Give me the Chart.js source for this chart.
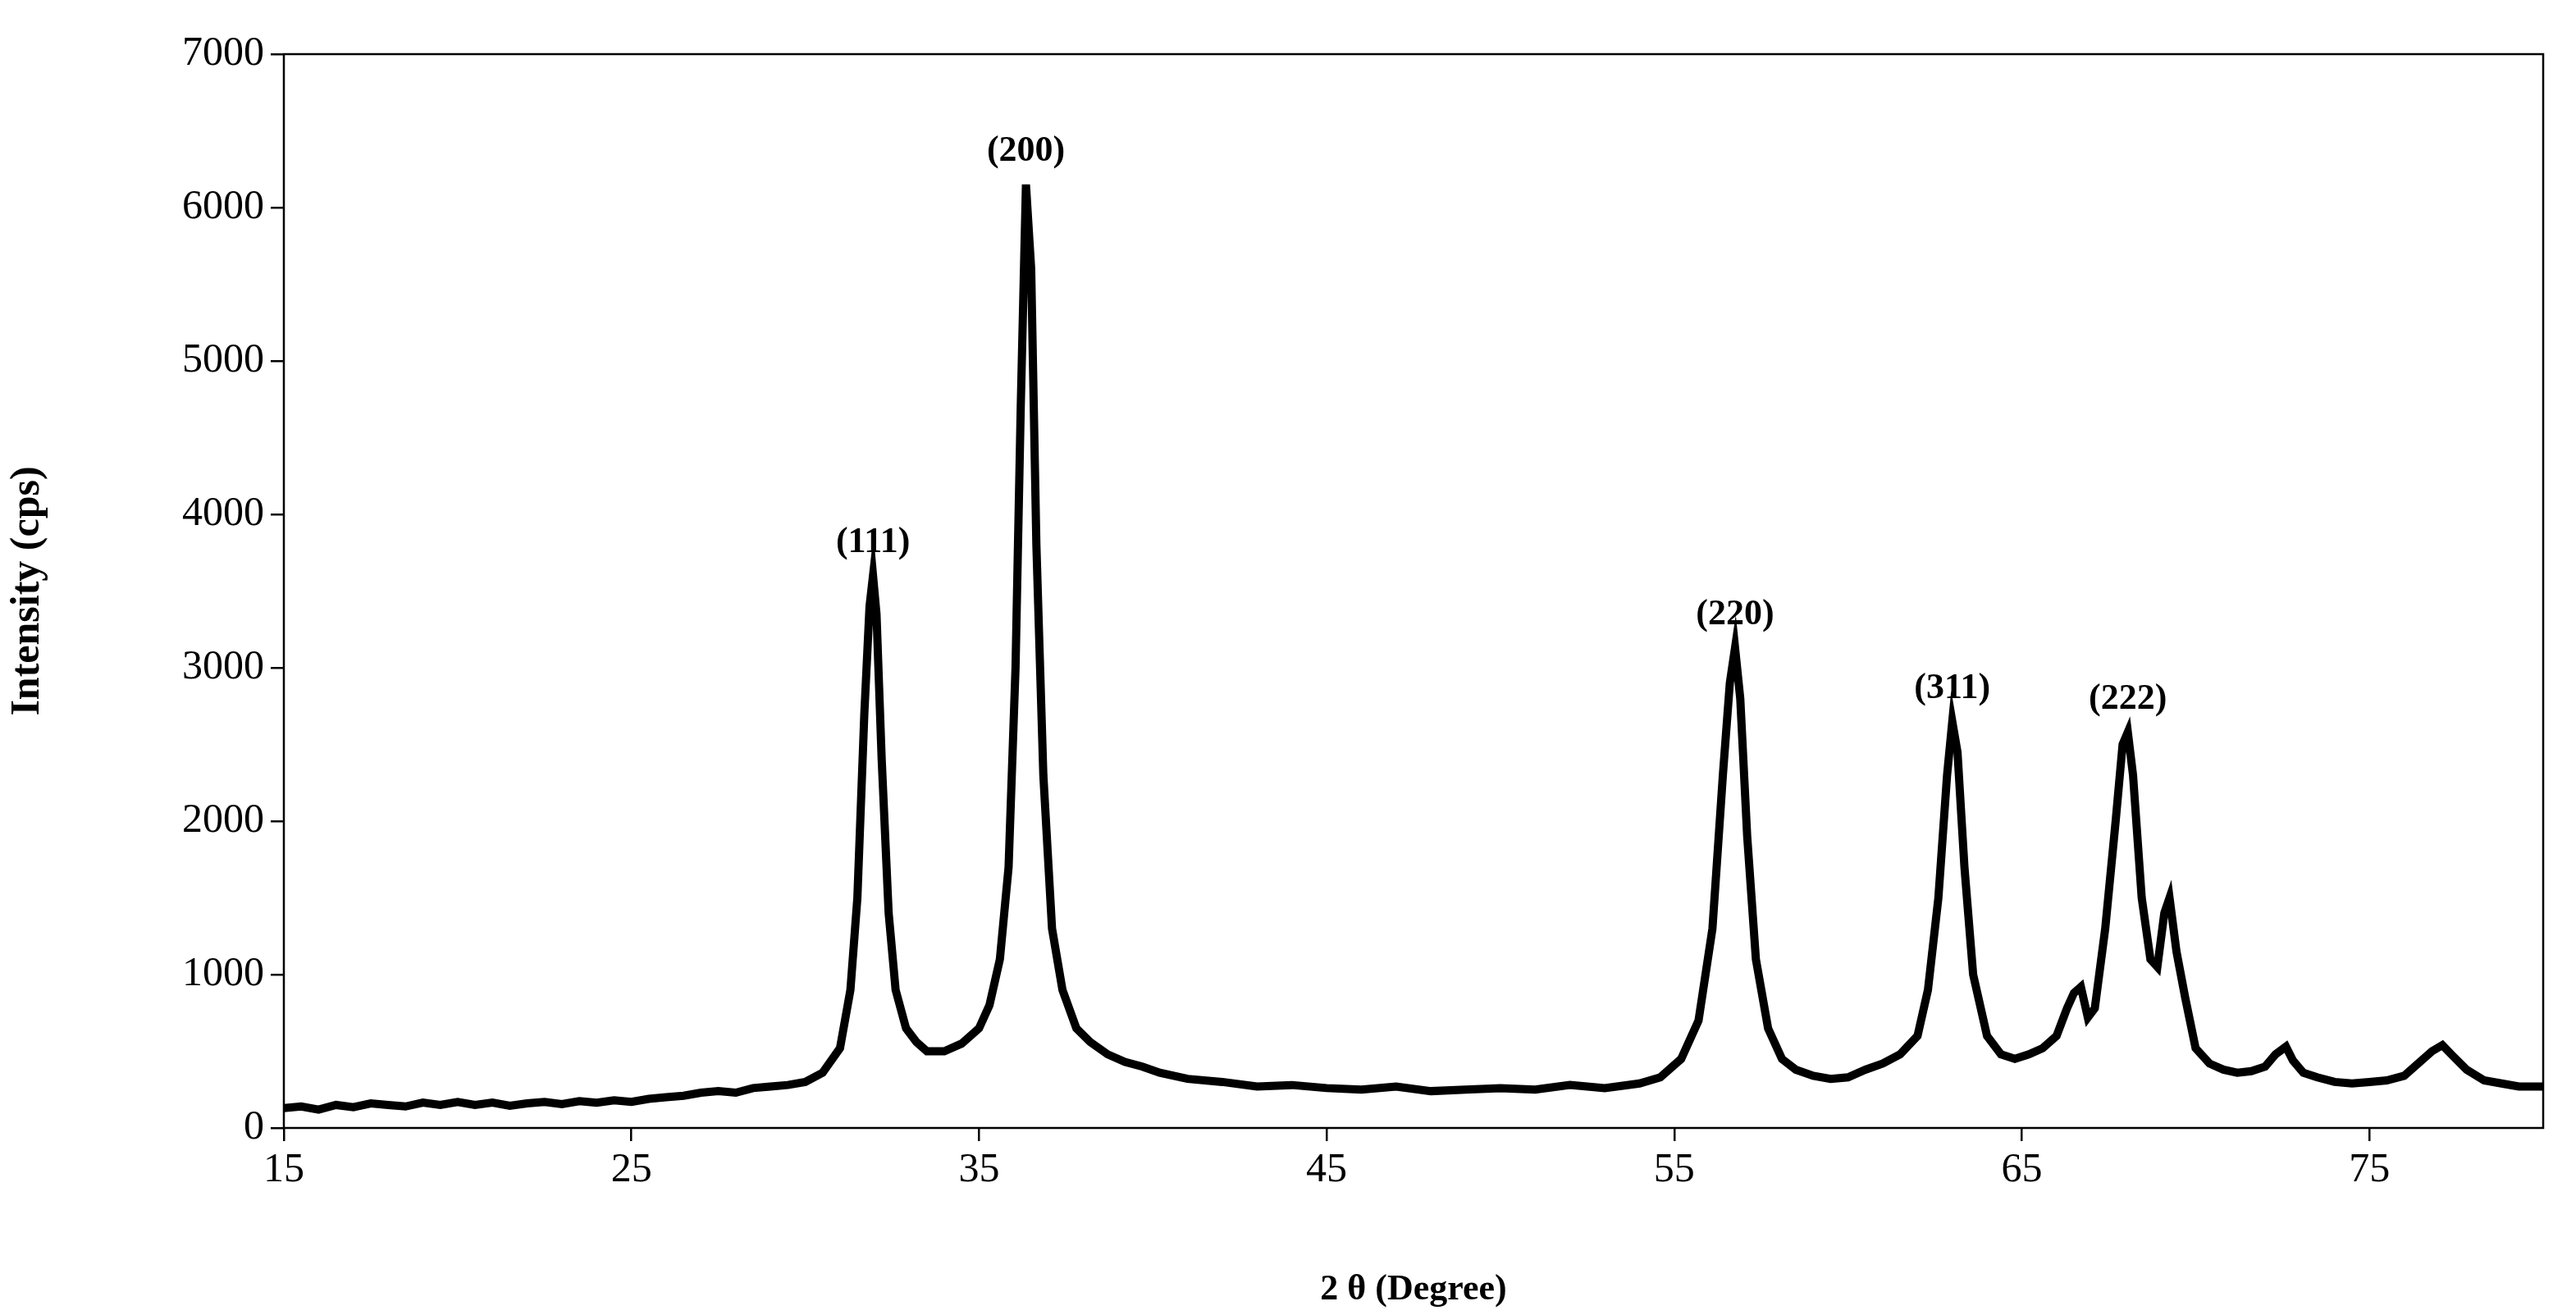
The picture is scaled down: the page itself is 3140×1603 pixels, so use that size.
<!DOCTYPE html>
<html><head><meta charset="utf-8">
<script src="https://cdn.jsdelivr.net/npm/chart.js@4/dist/chart.umd.min.js"></script>
<style>html,body{margin:0;padding:0;background:#fff}#wrap{width:3140px;height:1603px}</style>
</head><body><div id="wrap"><canvas id="c"></canvas></div>
<script>
const twoTheta = [
  15,15.5,16,16.5,17,17.5,18,18.5,19,19.5,20,20.5,21,21.5,22,22.5,23,23.5,24,24.5,25,25.5,26,26.5,27,27.5,28,28.5,29,29.5,30,30.5,
  31,31.3,31.5,31.7,31.85,31.95,32.05,32.2,32.4,32.6,32.9,33.2,33.5,
  34,34.5,35,35.3,35.6,35.85,36.05,36.2,36.35,36.5,36.65,36.85,37.1,37.4,37.8,38.2,38.7,39.2,39.7,40.2,
  41,42,43,44,45,46,47,48,49,50,51,52,53,54,54.6,55.2,55.7,56.1,56.4,56.6,56.75,56.9,57.1,57.35,57.7,58.1,58.5,59,59.5,60,
  60.5,61,61.5,62,62.3,62.6,62.85,63.0,63.15,63.35,63.6,64,64.4,64.8,65.2,65.6,
  66,66.3,66.5,66.7,66.9,67.1,67.4,67.7,67.9,68.05,68.2,68.45,68.7,68.9,69.1,69.25,69.45,
  69.7,70,70.4,70.8,71.2,71.6,72,72.3,72.6,72.8,73.1,73.5,74,74.5,75,75.5,76,76.4,76.8,77.1,77.4,77.8,78.3,78.8,79.3,80
];
const intensity = [
  130,140,120,150,135,160,150,140,165,150,170,150,165,145,160,170,155,175,165,180,170,190,200,210,230,240,230,260,270,280,300,360,
  520,900,1500,2700,3400,3600,3350,2400,1400,900,650,560,500,
  500,550,650,800,1100,1700,3000,4700,6150,5600,3800,2300,1300,900,650,560,480,430,400,360,
  320,300,270,280,260,250,270,240,250,260,250,280,260,290,330,450,700,1300,2300,2900,3130,2800,1900,1100,650,450,380,340,320,330,
  380,420,480,600,900,1500,2300,2650,2450,1700,1000,600,480,450,480,520,
  600,780,880,920,720,780,1300,2000,2500,2580,2300,1500,1100,1050,1400,1500,1150,
  850,520,420,380,360,370,400,480,530,440,360,330,300,290,300,310,340,420,500,540,470,380,310,290,270,270
];
const yTicks = [0,1000,2000,3000,4000,5000,6000,7000];
const xTicks = [15,25,35,45,55,65,75];
const peakLabels = ["(111)","(200)","(220)","(311)","(222)"];
const peakX = [31.95,36.35,56.75,63.0,68.05];
const peakY = [3600,6150,3130,2650,2580];

const points = twoTheta.map((x,i)=>({x, y:intensity[i]}));
const serif = "'Liberation Serif','DejaVu Serif',serif";

const frame = {
  id:'frame',
  afterDatasetsDraw(ch){
    const {ctx, chartArea:a, scales} = ch;
    ctx.save();
    ctx.strokeStyle='#000'; ctx.lineWidth=2.5;
    ctx.strokeRect(a.left,a.top,a.right-a.left,a.bottom-a.top);
    ctx.fillStyle='#000'; ctx.font="bold 44px "+serif; ctx.textAlign='center'; ctx.textBaseline='bottom';
    peakLabels.forEach((t,i)=>{
      ctx.fillText(t, scales.x.getPixelForValue(peakX[i]), scales.y.getPixelForValue(peakY[i])-18);
    });
    ctx.restore();
  }
};

new Chart(document.getElementById('c'), {
  type:'line',
  data:{datasets:[{data:points, borderColor:'#000', borderWidth:10, pointRadius:0, tension:0, fill:false}]},
  options:{
    responsive:true, maintainAspectRatio:false, animation:false,
    layout:{padding:{top:66,right:40,left:0,bottom:0}},
    plugins:{legend:{display:false}, tooltip:{enabled:false}},
    scales:{
      x:{type:'linear', min:15, max:80,
        afterBuildTicks(s){ s.ticks = xTicks.map(v=>({value:v})); },
        afterFit(s){ s.height = 228; },
        grid:{drawOnChartArea:false, drawTicks:true, tickLength:16, color:'#000', lineWidth:2.5},
        border:{display:false},
        ticks:{color:'#000', font:{family:serif, size:50}, padding:6, maxRotation:0},
        title:{display:true, text:'2 θ (Degree)', color:'#000', font:{family:serif, size:44, weight:'bold'}, padding:{top:4}}
      },
      y:{min:0, max:7000,
        afterBuildTicks(s){ s.ticks = yTicks.map(v=>({value:v})); },
        afterFit(s){ s.width = 346; },
        grid:{drawOnChartArea:false, drawTicks:true, tickLength:16, color:'#000', lineWidth:2.5},
        border:{display:false},
        ticks:{color:'#000', font:{family:serif, size:50}, padding:8, callback:v=>String(v)},
        title:{display:true, text:'Intensity (cps)', color:'#000', font:{family:serif, size:50, weight:'bold'}, padding:{bottom:10}}
      }
    }
  },
  plugins:[frame]
});
</script></body></html>
